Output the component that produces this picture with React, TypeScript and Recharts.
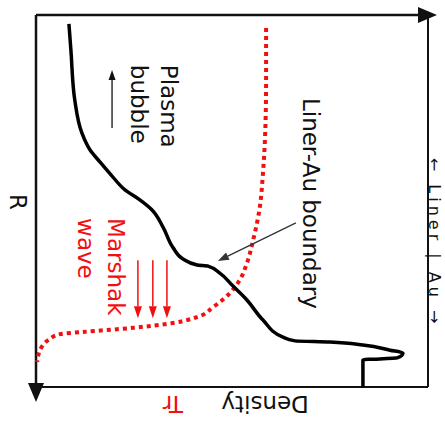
import { LineChart, Line, XAxis, YAxis, ReferenceLine, ReferenceDot } from "recharts"

document.body.style.margin = "0"

// R runs down the page (0 = top of frame, 100 = bottom), density / Tr across
const densityR = [2.4, 9.4, 22.9, 31.7, 36.3, 39.5, 43.3, 47.0, 49.7, 52.4, 57.0, 62.6, 65.6, 67.2, 67.5, 69.4, 72.6, 76.6, 82.0, 86.6, 87.6, 87.9, 88.7, 90.1, 90.9, 92.2, 92.7, 100]
const density = [8.4, 8.9, 9.9, 11.7, 13.8, 16.3, 19.4, 22.7, 26.5, 29.6, 32.4, 35.0, 37.5, 41.1, 43.9, 46.9, 50.0, 53.8, 57.9, 63.0, 66.1, 75.0, 83.4, 90.3, 93.6, 92.1, 83.4, 83.4]

const trR = [3.5, 17.5, 33.6, 42.5, 51.6, 60.5, 66.7, 71.2, 74.7, 78.5, 81.2, 82.8, 84.1, 85.2, 85.8, 87.4, 89.5, 91.9, 93.3]
const tr = [58.7, 58.7, 58.4, 57.9, 57.1, 55.4, 53.8, 52.0, 49.5, 45.2, 41.1, 34.9, 24.7, 12.0, 6.1, 3.1, 1.3, 0.5, 0.3]

// marshak wave arrows (density position of each)
const marshakArrows = [26.0, 29.8, 33.4]

const densityData = densityR.map((r, i) => ({ r, density: density[i] }))
const trData = trR.map((r, i) => ({ r, tr: tr[i] }))

const RED = "#f01010"
const INK = "#111"
const FONT = "DejaVu Sans"

const arrow = (color: string, width: number, headLen: number, headW: number) => (p: any) => {
  const { x1, y1, x2, y2 } = p
  const dx = x2 - x1
  const dy = y2 - y1
  const len = Math.hypot(dx, dy) || 1
  const ux = dx / len
  const uy = dy / len
  const bx = x2 - ux * headLen
  const by = y2 - uy * headLen
  const px = (-uy * headW) / 2
  const py = (ux * headW) / 2
  return (
    <g>
      <line x1={x1} y1={y1} x2={bx} y2={by} stroke={color} strokeWidth={width} />
      <polygon points={`${x2},${y2} ${bx + px},${by + py} ${bx - px},${by - py}`} fill={color} />
    </g>
  )
}

const note = (text: string, angle: number, color = INK, size = 23, spacing = 0) => (p: any) => (
  <text
    x={p.cx}
    y={p.cy}
    transform={`rotate(${angle} ${p.cx} ${p.cy})`}
    fill={color}
    fontSize={size}
    letterSpacing={spacing}
    fontFamily={FONT}
  >
    {text}
  </text>
)

export default function App() {
  return (
    <div style={{ width: 445, height: 422, background: "#fff" }}>
      <LineChart
        layout="vertical"
        width={445}
        height={422}
        margin={{ top: 15, right: 17, bottom: 35, left: 36 }}
      >
        <XAxis type="number" domain={[0, 100]} hide />
        <YAxis type="number" dataKey="r" domain={[0, 100]} hide />

        {/* frame */}
        <ReferenceLine x={100} stroke={INK} strokeWidth={2} ifOverflow="visible" />
        <ReferenceLine y={100} stroke={INK} strokeWidth={2} ifOverflow="visible" />
        <ReferenceLine
          segment={[{ x: 0, y: 0 }, { x: 102.3, y: 0 }]}
          ifOverflow="visible"
          shape={arrow(INK, 2.5, 19, 16)}
        />
        <ReferenceLine
          segment={[{ x: 0, y: 0 }, { x: 0, y: 104 }]}
          ifOverflow="visible"
          shape={arrow(INK, 2.5, 19, 16)}
        />

        <Line
          data={trData}
          dataKey="tr"
          type="monotone"
          stroke={RED}
          strokeWidth={4}
          strokeDasharray="4 4"
          dot={false}
          isAnimationActive={false}
        />
        <Line
          data={densityData}
          dataKey="density"
          type="monotone"
          stroke="#000"
          strokeWidth={3.5}
          dot={false}
          isAnimationActive={false}
        />

        {/* annotation arrows */}
        <ReferenceLine
          segment={[{ x: 19.4, y: 30.4 }, { x: 19.4, y: 14.8 }]}
          ifOverflow="visible"
          shape={arrow(INK, 1.3, 10, 7)}
        />
        <ReferenceLine
          segment={[{ x: 66.3, y: 55.9 }, { x: 46.4, y: 66.1 }]}
          ifOverflow="visible"
          shape={arrow("#333", 1.3, 11, 8)}
        />
        {marshakArrows.map((d) => (
          <ReferenceLine
            key={d}
            segment={[{ x: d, y: 65.9 }, { x: d, y: 81.5 }]}
            ifOverflow="visible"
            shape={arrow(RED, 1.5, 12, 8)}
          />
        ))}

        {/* labels */}
        <ReferenceDot x={31.9} y={13.4} r={0} ifOverflow="visible" shape={note("Plasma", 90)} />
        <ReferenceDot x={24.2} y={13.4} r={0} ifOverflow="visible" shape={note("bubble", 90)} />
        <ReferenceDot x={68.1} y={22.3} r={0} ifOverflow="visible" shape={note("Liner-Au boundary", 90)} />
        <ReferenceDot x={18.4} y={54.6} r={0} ifOverflow="visible" shape={note("Marshak", 90, RED)} />
        <ReferenceDot x={10.7} y={54.6} r={0} ifOverflow="visible" shape={note("wave", 90, RED)} />
        <ReferenceDot x={-6.6} y={48.1} r={0} ifOverflow="visible" shape={note("R", 90)} />
        <ReferenceDot
          x={100.38}
          y={38.4}
          r={0}
          ifOverflow="visible"
          shape={note("← Liner | Au →", 90, INK, 16, 4)}
        />
        <ReferenceDot x={69.6} y={102.4} r={0} ifOverflow="visible" shape={note("Density", 180)} />
        <ReferenceDot x={37.5} y={102.4} r={0} ifOverflow="visible" shape={note("Tr", 180, RED)} />
      </LineChart>
    </div>
  )
}
